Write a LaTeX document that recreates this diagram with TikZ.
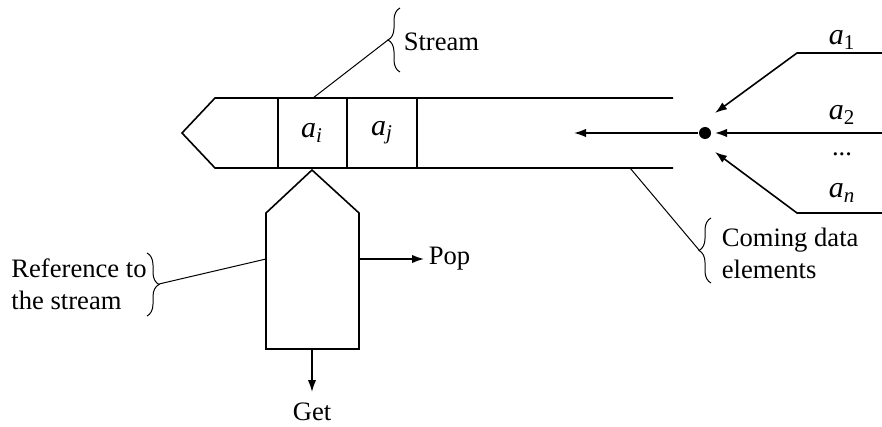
\documentclass[tikz,border=0pt]{standalone}
\usepackage{fontspec}
\setmainfont{Liberation Serif}
\usetikzlibrary{arrows.meta,decorations.pathreplacing}
\newcommand{\subsc}[2]{{\fontsize{15}{18}\selectfont\textit{#1}\textsubscript{#2}}}
\begin{document}
\begin{tikzpicture}[x=0.5pt,y=-0.5pt,line width=0.8pt,
  font=\fontsize{13.3}{16}\selectfont,
  thinline/.style={line width=0.5pt},
  arr/.style={-{Latex[length=6pt,width=4.2pt]}},
  bracedeco/.style={thinline,decorate,decoration={brace,amplitude=6pt}},
  lbl/.style={inner sep=0pt}]
\useasboundingbox (0,0) rectangle (882,427);
% stream body
\coordinate (tip) at (182,133);
\coordinate (tl) at (215,98);
\coordinate (bl) at (215,168);
\coordinate (tr) at (673,98);
\coordinate (brr) at (673,168);
\draw (tr) -- (tl) -- (tip) -- (bl) -- (brr);
\foreach \x in {278,347,417} \draw (\x,98) -- (\x,168);
\node[lbl] (ai) at (312,133) {\subsc{a}{\textit{i}}};
\node[lbl] (aj) at (382,133) {\subsc{a}{\textit{j}}};
% merge dot and incoming elements
\node[circle,fill,inner sep=0pt,minimum size=6pt] (dot) at (705,133) {};
\coordinate (in) at (574,133);
\draw[arr] (dot) -- (in);
\coordinate (k1) at (797,53);
\coordinate (e1) at (882,53);
\coordinate (t1) at (715,113);
\coordinate (e2) at (882,133);
\coordinate (t2) at (715,133);
\coordinate (kn) at (797,213);
\coordinate (en) at (882,213);
\coordinate (tn) at (715,152);
\draw[arr] (e1) -- (k1) -- (t1);
\draw[arr] (e2) -- (t2);
\draw[arr] (en) -- (kn) -- (tn);
\node[lbl] (a1) at (842,40) {\subsc{a}{1}};
\node[lbl] (a2) at (842,115) {\subsc{a}{2}};
\node[lbl,anchor=base,text height=2pt,text depth=0pt] (dots) at (842,156) {...};
\node[lbl] (an) at (842,193) {\subsc{a}{\textit{n}}};
% stream label
\draw[bracedeco] (400,72) -- (400,8);
\coordinate (sb) at (388,40);
\coordinate (sl) at (313,98);
\draw[thinline] (sb) -- (sl);
\node[lbl,anchor=west] (stream) at (403,42) {Stream};
% coming data elements label
\draw[bracedeco] (711,283) -- (711,218);
\coordinate (cb) at (699,250);
\coordinate (cl) at (630,168);
\draw[thinline] (cl) -- (cb);
\node[lbl,anchor=west,align=left] (coming) at (721,253) {Coming data\\elements};
% reference pentagon
\coordinate (pt) at (312,170);
\coordinate (pr) at (359,213);
\coordinate (pbr) at (359,349);
\coordinate (pbl) at (266,349);
\coordinate (pl) at (266,213);
\draw (pt) -- (pr) -- (pbr) -- (pbl) -- (pl) -- cycle;
\coordinate (popstart) at (359,259);
\coordinate (popend) at (424,259);
\draw[arr] (popstart) -- (popend);
\node[lbl,anchor=west] (pop) at (428,259) {Pop};
\coordinate (getstart) at (312,349);
\coordinate (getend) at (312,392);
\draw[arr] (getstart) -- (getend);
\node[lbl] (get) at (312,412) {Get};
% reference label
\draw[bracedeco] (147,253) -- (147,316);
\coordinate (rb) at (159,284);
\coordinate (rl) at (266,259);
\draw[thinline] (rb) -- (rl);
\node[lbl,align=left] (ref) at (79,284) {Reference to\\the stream};
\end{tikzpicture}
\end{document}
